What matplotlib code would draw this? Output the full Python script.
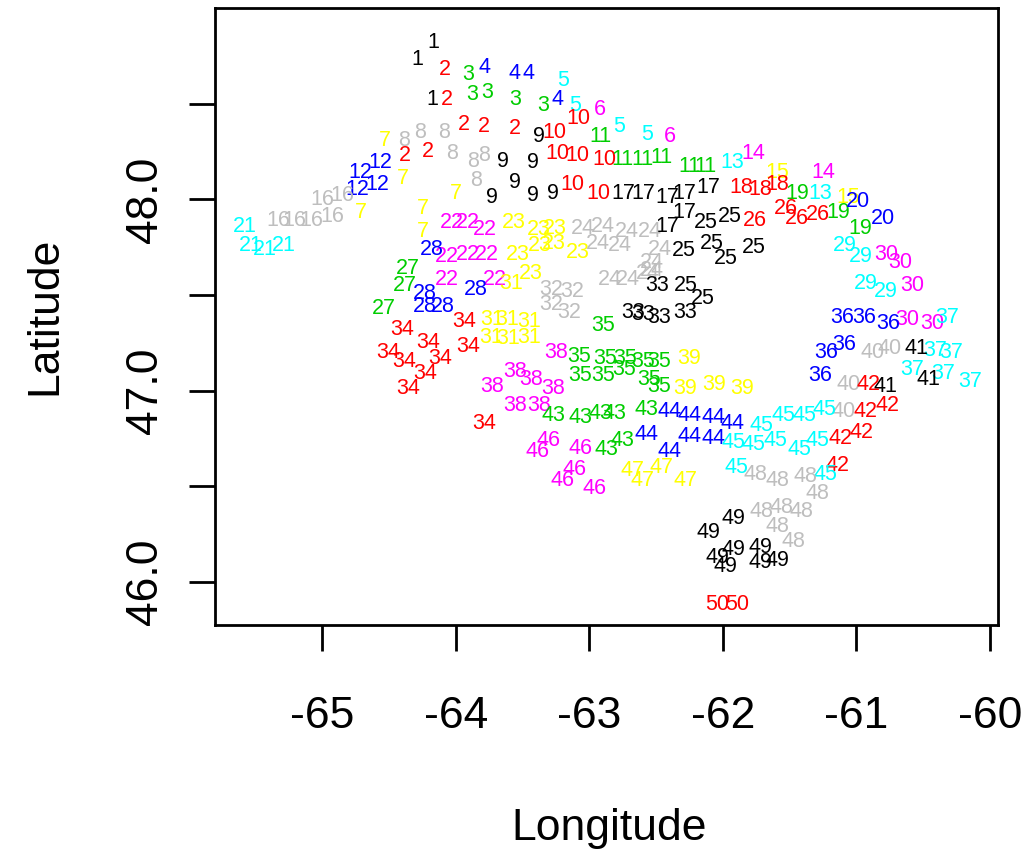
import matplotlib.pyplot as plt

# site number of every sampling point, with its longitude and latitude
site = ([1] * 3 + [2] * 7 + [3] * 5 + [4] * 4 + [5] * 4 + [6] * 2 + [7] * 6 + [8] * 7 + [9] * 7 + [10] * 7
        + [11] * 6 + [12] * 4 + [13] * 2 + [14] * 2 + [15] * 2 + [16] * 6 + [17] * 7 + [18] * 3 + [19] * 3
        + [20] * 2 + [21] * 4 + [22] * 8 + [23] * 8 + [24] * 12 + [25] * 8 + [26] * 4 + [27] * 3 + [28] * 5
        + [29] * 4 + [30] * 5 + [31] * 7 + [32] * 4 + [33] * 5 + [34] * 10 + [35] * 11 + [36] * 6 + [37] * 6
        + [38] * 7 + [39] * 4 + [40] * 4 + [41] * 3 + [42] * 6 + [43] * 7 + [44] * 8 + [45] * 11 + [46] * 6
        + [47] * 4 + [48] * 9 + [49] * 8 + [50] * 2)

lon = [
    -64.17, -64.29, -64.18,
    -64.08, -64.07, -63.94, -63.79, -63.56, -64.38, -64.21,
    -63.91, -63.88, -63.77, -63.56, -63.35,
    -63.79, -63.56, -63.46, -63.24,
    -63.20, -63.11, -62.78, -62.57,
    -62.92, -62.40,
    -64.53, -64.40, -64.71, -64.25, -64.00, -64.25,
    -64.39, -64.27, -64.09, -64.03, -63.87, -63.79, -63.85,
    -63.38, -63.65, -63.42, -63.56, -63.73, -63.42, -63.27,
    -63.08, -63.26, -63.24, -63.09, -62.89, -63.13, -62.93,
    -62.92, -62.75, -62.60, -62.46, -62.25, -62.13,
    -64.72, -64.57, -64.74, -64.59,
    -61.93, -61.27,
    -61.77, -61.25,
    -61.59, -61.06,
    -65.00, -64.85, -65.33, -65.21, -65.08, -64.93,
    -62.75, -62.60, -62.42, -62.29, -62.11, -62.29, -62.42,
    -61.86, -61.72, -61.59,
    -61.44, -61.14, -60.97,
    -60.99, -60.80,
    -65.58, -65.54, -65.43, -65.29,
    -64.03, -63.91, -63.78, -64.07, -63.91, -63.77, -64.07, -63.71,
    -63.57, -63.38, -63.26, -63.54, -63.37, -63.27, -63.09, -63.44,
    -63.05, -62.90, -62.72, -62.55, -62.94, -62.77, -62.47, -62.53, -62.53, -62.85, -62.71, -62.56,
    -62.13, -61.95, -62.29, -62.08, -61.77, -61.98, -62.28, -62.15,
    -61.76, -61.53, -61.45, -61.29,
    -64.36, -64.38, -64.54,
    -64.18, -64.23, -64.23, -64.10, -63.85,
    -61.09, -60.97, -60.93, -60.78,
    -60.78, -60.67, -60.58, -60.62, -60.43,
    -63.59, -63.73, -63.62, -63.45, -63.74, -63.61, -63.45,
    -63.29, -63.13, -63.29, -63.15,
    -62.49, -62.67, -62.60, -62.48, -62.28,
    -64.40, -63.94, -64.51, -64.39, -64.21, -64.12, -64.23, -63.91, -64.36, -63.79,
    -62.90, -63.08, -62.88, -62.73, -62.60, -62.48, -63.07, -62.90, -62.74, -62.55, -62.48,
    -61.11, -60.94, -60.76, -61.23, -61.09, -61.27,
    -60.32, -60.41, -60.29, -60.58, -60.35, -60.15,
    -63.25, -63.56, -63.44, -63.27, -63.73, -63.56, -63.38,
    -62.25, -62.28, -62.07, -61.86,
    -60.88, -60.75, -61.06, -61.10,
    -60.55, -60.78, -60.46,
    -60.91, -60.93, -60.77, -61.12, -60.96, -61.14,
    -63.27, -63.07, -62.92, -62.81, -62.57, -62.75, -62.87,
    -62.40, -62.25, -62.07, -61.93, -62.57, -62.25, -62.07, -62.40,
    -61.71, -61.55, -61.39, -61.24, -61.92, -61.77, -61.61, -61.43, -61.29, -61.23, -61.90,
    -63.31, -63.39, -63.07, -63.11, -63.20, -62.96,
    -62.68, -62.46, -62.60, -62.28,
    -61.76, -61.59, -61.38, -61.29, -61.71, -61.56, -61.41, -61.59, -61.47,
    -62.11, -61.92, -62.04, -61.92, -61.98, -61.72, -61.72, -61.59,
    -62.04, -61.89,
]

lat = [
    48.82, 48.73, 48.52,
    48.68, 48.52, 48.39, 48.38, 48.37, 48.23, 48.25,
    48.65, 48.55, 48.56, 48.52, 48.49,
    48.69, 48.66, 48.66, 48.52,
    48.62, 48.49, 48.38, 48.34,
    48.47, 48.33,
    48.31, 48.11, 47.93, 47.95, 48.03, 47.83,
    48.31, 48.35, 48.35, 48.24, 48.20, 48.23, 48.10,
    48.33, 48.20, 48.19, 48.09, 48.01, 48.02, 48.03,
    48.42, 48.35, 48.24, 48.23, 48.21, 48.08, 48.03,
    48.33, 48.21, 48.21, 48.22, 48.17, 48.17,
    48.14, 48.19, 48.05, 48.08,
    48.19, 48.03,
    48.24, 48.14,
    48.14, 48.01,
    48.00, 48.02, 47.89, 47.89, 47.89, 47.91,
    48.03, 48.03, 48.01, 48.03, 48.06, 47.93, 47.86,
    48.06, 48.05, 48.08,
    48.03, 47.93, 47.85,
    47.99, 47.90,
    47.86, 47.76, 47.74, 47.76,
    47.88, 47.88, 47.84, 47.70, 47.71, 47.71, 47.58, 47.58,
    47.88, 47.84, 47.85, 47.71, 47.76, 47.77, 47.72, 47.61,
    47.85, 47.86, 47.83, 47.83, 47.77, 47.76, 47.74, 47.67, 47.63, 47.58, 47.58, 47.61,
    47.88, 47.91, 47.73, 47.77, 47.75, 47.69, 47.55, 47.48,
    47.89, 47.95, 47.90, 47.92,
    47.64, 47.55, 47.43,
    47.74, 47.51, 47.44, 47.44, 47.53,
    47.76, 47.70, 47.56, 47.52,
    47.71, 47.67, 47.55, 47.37, 47.35,
    47.56, 47.37, 47.37, 47.36, 47.28, 47.27, 47.28,
    47.53, 47.52, 47.45, 47.41,
    47.55, 47.41, 47.40, 47.38, 47.41,
    47.32, 47.36, 47.20, 47.15, 47.25, 47.17, 47.09, 47.23, 47.01, 46.83,
    47.34, 47.18, 47.17, 47.17, 47.15, 47.15, 47.08, 47.08, 47.11, 47.06, 47.02,
    47.38, 47.38, 47.35, 47.20, 47.24, 47.08,
    47.38, 47.21, 47.20, 47.11, 47.09, 47.05,
    47.20, 47.10, 47.06, 47.01, 47.02, 46.92, 46.92,
    47.17, 47.01, 47.03, 47.01,
    47.20, 47.22, 47.03, 46.89,
    47.22, 47.02, 47.06,
    47.03, 46.89, 46.92, 46.75, 46.78, 46.61,
    46.87, 46.86, 46.88, 46.88, 46.90, 46.74, 46.69,
    46.89, 46.87, 46.86, 46.83, 46.77, 46.76, 46.75, 46.68,
    46.82, 46.87, 46.87, 46.90, 46.73, 46.72, 46.74, 46.69, 46.74, 46.56, 46.60,
    46.74, 46.68, 46.70, 46.59, 46.53, 46.49,
    46.58, 46.60, 46.53, 46.53,
    46.56, 46.53, 46.55, 46.46, 46.37, 46.39, 46.37, 46.29, 46.21,
    46.26, 46.33, 46.13, 46.17, 46.08, 46.18, 46.10, 46.11,
    45.88, 45.88,
]

x_ticks = [-65, -64, -63, -62, -61, -60]
y_ticks = [46.0, 46.5, 47.0, 47.5, 48.0, 48.5]
y_tick_labels = ['46.0', '', '47.0', '', '48.0', '']

# R's default palette, recycled by site number
palette = ['black', '#FF0000', '#00CD00', '#0000FF', '#00FFFF', '#FF00FF', '#FFFF00', '#BEBEBE']

plt.rcParams['font.family'] = ['Liberation Sans', 'DejaVu Sans']

fig = plt.figure(figsize=(10.24, 8.55), dpi=100)
ax = fig.add_axes([215 / 1024, 1 - 625 / 855, 783 / 1024, 617 / 855])

for s, x, y in zip(site, lon, lat):
    ax.text(x, y, str(s), color=palette[(s - 1) % 8], fontsize=15.5,
            ha='center', va='center')

ax.set_xlim(-65.805, -59.94)
ax.set_ylim(45.775, 49.0)

ax.set_xticks(x_ticks)
ax.set_xticklabels([str(t) for t in x_ticks])
ax.set_yticks(y_ticks)
ax.set_yticklabels(y_tick_labels, rotation=90, va='center')

for sp in ax.spines.values():
    sp.set_linewidth(2.0)
ax.tick_params(direction='out', length=19, width=2.0, labelsize=32)
ax.tick_params(axis='x', pad=32)
ax.tick_params(axis='y', pad=16)

fig.text(609 / 1024, 1 - 828 / 855, 'Longitude', fontsize=32, ha='center', va='center')
fig.text(45 / 1024, 1 - 316 / 855, 'Latitude', fontsize=32, rotation=90, ha='center', va='center')

fig.savefig('out.png', dpi=100)
